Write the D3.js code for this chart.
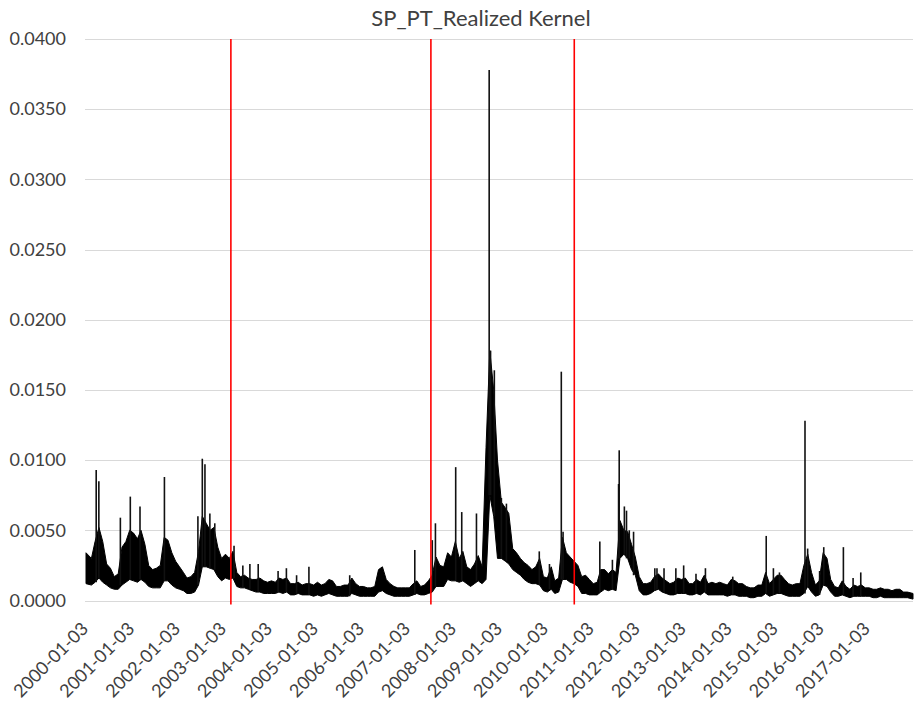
<!DOCTYPE html>
<meta charset="utf-8">
<style>
  body { margin: 0; background: #fff; }
  text { font-family: Lato, "Open Sans", sans-serif; fill: #404040; }
</style>
<svg width="914" height="701"></svg>
<script src="https://d3js.org/d3.v7.min.js"></script>
<script>
var title = "SP_PT_Realized Kernel";
var years = d3.range(2000, 2018);

// monthly low / high of the daily band (one row per year)
var bandLow = [
  [0.0012, 0.0011, 0.0013, 0.0016, 0.0013, 0.0011, 0.0009, 0.0008, 0.0008, 0.0011, 0.0013, 0.0015],
  [0.0014, 0.0013, 0.0015, 0.0013, 0.0010, 0.0009, 0.0009, 0.0009, 0.0014, 0.0014, 0.0011, 0.0009],
  [0.0008, 0.0007, 0.0005, 0.0005, 0.0006, 0.0011, 0.0024, 0.0024, 0.0023, 0.0022, 0.0017, 0.0014],
  [0.0016, 0.0015, 0.0016, 0.0010, 0.0009, 0.0009, 0.0008, 0.0007, 0.0006, 0.0006, 0.0005, 0.0005],
  [0.0005, 0.0005, 0.0006, 0.0005, 0.0006, 0.0004, 0.0004, 0.0005, 0.0004, 0.0004, 0.0004, 0.0003],
  [0.0004, 0.0003, 0.0004, 0.0005, 0.0004, 0.0003, 0.0003, 0.0003, 0.0003, 0.0005, 0.0004, 0.0003],
  [0.0003, 0.0003, 0.0003, 0.0003, 0.0006, 0.0007, 0.0005, 0.0004, 0.0003, 0.0003, 0.0003, 0.0003],
  [0.0003, 0.0004, 0.0005, 0.0004, 0.0004, 0.0005, 0.0006, 0.0010, 0.0010, 0.0010, 0.0015, 0.0014],
  [0.0014, 0.0013, 0.0014, 0.0012, 0.0010, 0.0012, 0.0014, 0.0012, 0.0015, 0.0075, 0.0060, 0.0030],
  [0.0030, 0.0028, 0.0026, 0.0022, 0.0020, 0.0018, 0.0015, 0.0013, 0.0012, 0.0012, 0.0011, 0.0007],
  [0.0006, 0.0008, 0.0005, 0.0006, 0.0015, 0.0015, 0.0013, 0.0012, 0.0010, 0.0005, 0.0005, 0.0004],
  [0.0004, 0.0004, 0.0006, 0.0008, 0.0007, 0.0008, 0.0007, 0.0030, 0.0033, 0.0030, 0.0022, 0.0018],
  [0.0007, 0.0004, 0.0004, 0.0005, 0.0007, 0.0008, 0.0006, 0.0005, 0.0004, 0.0004, 0.0005, 0.0005],
  [0.0005, 0.0004, 0.0004, 0.0005, 0.0004, 0.0006, 0.0004, 0.0004, 0.0004, 0.0004, 0.0004, 0.0003],
  [0.0004, 0.0004, 0.0003, 0.0003, 0.0003, 0.0002, 0.0002, 0.0003, 0.0003, 0.0005, 0.0003, 0.0004],
  [0.0005, 0.0005, 0.0004, 0.0003, 0.0003, 0.0003, 0.0003, 0.0005, 0.0010, 0.0006, 0.0003, 0.0004],
  [0.0011, 0.0010, 0.0006, 0.0003, 0.0003, 0.0004, 0.0003, 0.0002, 0.0003, 0.0003, 0.0003, 0.0003],
  [0.0003, 0.0002, 0.0002, 0.0003, 0.0002, 0.0002, 0.0002, 0.0002, 0.0002, 0.0002, 0.0002, 0.0001]
];
var bandHigh = [
  [0.0034, 0.0030, 0.0042, 0.0052, 0.0042, 0.0026, 0.0023, 0.0017, 0.0019, 0.0038, 0.0042, 0.0050],
  [0.0048, 0.0044, 0.0050, 0.0040, 0.0025, 0.0022, 0.0023, 0.0025, 0.0045, 0.0043, 0.0034, 0.0028],
  [0.0024, 0.0020, 0.0016, 0.0017, 0.0020, 0.0035, 0.0060, 0.0055, 0.0050, 0.0052, 0.0038, 0.0030],
  [0.0033, 0.0030, 0.0035, 0.0020, 0.0017, 0.0018, 0.0016, 0.0015, 0.0015, 0.0016, 0.0014, 0.0013],
  [0.0014, 0.0013, 0.0016, 0.0015, 0.0016, 0.0012, 0.0012, 0.0013, 0.0011, 0.0012, 0.0012, 0.0011],
  [0.0013, 0.0011, 0.0012, 0.0015, 0.0014, 0.0010, 0.0010, 0.0011, 0.0011, 0.0016, 0.0012, 0.0010],
  [0.0010, 0.0009, 0.0009, 0.0010, 0.0022, 0.0024, 0.0015, 0.0012, 0.0010, 0.0009, 0.0009, 0.0009],
  [0.0009, 0.0012, 0.0014, 0.0010, 0.0011, 0.0014, 0.0018, 0.0031, 0.0025, 0.0024, 0.0034, 0.0031],
  [0.0042, 0.0030, 0.0035, 0.0024, 0.0022, 0.0026, 0.0032, 0.0024, 0.0109, 0.0178, 0.0150, 0.0100],
  [0.0070, 0.0066, 0.0062, 0.0037, 0.0034, 0.0030, 0.0027, 0.0025, 0.0022, 0.0024, 0.0030, 0.0017],
  [0.0016, 0.0024, 0.0014, 0.0016, 0.0045, 0.0034, 0.0031, 0.0028, 0.0025, 0.0017, 0.0018, 0.0015],
  [0.0012, 0.0013, 0.0022, 0.0022, 0.0019, 0.0022, 0.0020, 0.0057, 0.0050, 0.0049, 0.0040, 0.0031],
  [0.0017, 0.0012, 0.0012, 0.0013, 0.0017, 0.0019, 0.0016, 0.0014, 0.0012, 0.0013, 0.0016, 0.0015],
  [0.0016, 0.0012, 0.0012, 0.0015, 0.0013, 0.0018, 0.0012, 0.0013, 0.0012, 0.0013, 0.0012, 0.0011],
  [0.0015, 0.0014, 0.0012, 0.0012, 0.0010, 0.0009, 0.0009, 0.0011, 0.0011, 0.0020, 0.0012, 0.0015],
  [0.0018, 0.0018, 0.0015, 0.0012, 0.0011, 0.0012, 0.0012, 0.0025, 0.0033, 0.0020, 0.0011, 0.0014],
  [0.0034, 0.0030, 0.0015, 0.0010, 0.0009, 0.0014, 0.0010, 0.0008, 0.0011, 0.0010, 0.0011, 0.0009],
  [0.0009, 0.0008, 0.0008, 0.0009, 0.0008, 0.0008, 0.0007, 0.0008, 0.0008, 0.0006, 0.0006, 0.0005]
];

// single-day spikes standing above the band
var spikes = [
  ["2000-03-24", 0.0093], ["2000-04-14", 0.0085], ["2000-10-02", 0.0059], ["2000-12-20", 0.0074],
  ["2001-03-07", 0.0067], ["2001-09-17", 0.0088], ["2002-06-10", 0.0060], ["2002-07-15", 0.0101],
  ["2002-08-05", 0.0097], ["2002-09-13", 0.0062], ["2002-10-22", 0.0055], ["2003-03-24", 0.0039],
  ["2003-06-02", 0.0025], ["2003-07-28", 0.0026], ["2003-10-02", 0.0026], ["2004-03-08", 0.0021],
  ["2004-05-13", 0.0023], ["2004-08-02", 0.0018], ["2004-11-08", 0.0024], ["2005-09-28", 0.0018],
  ["2007-02-27", 0.0036], ["2007-07-16", 0.0043], ["2007-08-10", 0.0055], ["2008-01-18", 0.0095],
  ["2008-03-06", 0.0063], ["2008-07-01", 0.0062], ["2008-10-10", 0.0378], ["2008-10-21", 0.0178],
  ["2008-11-20", 0.0164], ["2009-01-15", 0.0073], ["2009-02-24", 0.0069], ["2009-11-12", 0.0035],
  ["2010-02-01", 0.0026], ["2010-05-06", 0.0163], ["2010-05-20", 0.0049], ["2011-03-08", 0.0042],
  ["2011-06-16", 0.0029], ["2011-08-04", 0.0083], ["2011-08-09", 0.0107], ["2011-09-19", 0.0067],
  ["2011-10-06", 0.0064], ["2011-10-28", 0.0050], ["2011-12-01", 0.0049], ["2012-05-18", 0.0023],
  ["2012-06-04", 0.0023], ["2012-07-30", 0.0023], ["2012-11-01", 0.0023], ["2013-01-02", 0.0025],
  ["2013-04-10", 0.0019], ["2013-06-24", 0.0023], ["2014-01-27", 0.0017], ["2014-10-20", 0.0046],
  ["2014-12-16", 0.0023], ["2015-02-02", 0.0020], ["2015-08-24", 0.0128], ["2015-09-14", 0.0037],
  ["2015-12-18", 0.0021], ["2016-01-20", 0.0038], ["2016-06-24", 0.0038], ["2016-09-09", 0.0016],
  ["2016-11-09", 0.0020]
];

// red vertical marker lines
var breakDates = ["2003-02-27", "2007-07-05", "2010-08-17"];

var yTicks = [0, 0.005, 0.01, 0.015, 0.02, 0.025, 0.03, 0.035, 0.04];
var xTickLabels = ["2000-01-03", "2001-01-03", "2002-01-03", "2003-01-03", "2004-01-03", "2005-01-03",
  "2006-01-03", "2007-01-03", "2008-01-03", "2009-01-03", "2010-01-03", "2011-01-03", "2012-01-03",
  "2013-01-03", "2014-01-03", "2015-01-03", "2016-01-03", "2017-01-03"];

var parse = d3.timeParse("%Y-%m-%d");
var svg = d3.select("svg");

var x = d3.scaleTime()
  .domain([parse("2000-01-03"), parse("2017-12-29")])
  .range([86, 913]);
var y = d3.scaleLinear()
  .domain([0, 0.04])
  .range([600.5, 39]);

var months = [];
years.forEach(function(yr, i) {
  bandLow[i].forEach(function(lo, m) {
    months.push({ date: new Date(yr, m, 15), lo: lo, hi: bandHigh[i][m] });
  });
});
months[0].date = x.domain()[0];
months[months.length - 1].date = x.domain()[1];

// gridlines
svg.append("g")
  .selectAll("line")
  .data(yTicks)
  .enter().append("line")
    .attr("x1", 85).attr("x2", 913)
    .attr("y1", function(d) { return Math.round(y(d)) + 0.5; })
    .attr("y2", function(d) { return Math.round(y(d)) + 0.5; })
    .attr("stroke", "#d9d9d9")
    .attr("stroke-width", 1);

// band of daily values
var area = d3.area()
  .x(function(d) { return x(d.date); })
  .y0(function(d) { return y(d.lo); })
  .y1(function(d) { return y(d.hi); });

svg.append("path")
  .datum(months)
  .attr("d", area)
  .attr("fill", "#000")
  .attr("stroke", "#000")
  .attr("stroke-width", 1)
  .attr("stroke-linejoin", "round");

// spikes
svg.append("g")
  .selectAll("line")
  .data(spikes)
  .enter().append("line")
    .attr("x1", function(d) { return x(parse(d[0])); })
    .attr("x2", function(d) { return x(parse(d[0])); })
    .attr("y1", function(d) {
      var dt = parse(d[0]);
      return y(bandLow[dt.getFullYear() - 2000][dt.getMonth()]);
    })
    .attr("y2", function(d) { return y(d[1]); })
    .attr("stroke", "#111")
    .attr("stroke-width", 1.6);

// red lines
svg.append("g")
  .selectAll("line")
  .data(breakDates)
  .enter().append("line")
    .attr("x1", function(d) { return x(parse(d)); })
    .attr("x2", function(d) { return x(parse(d)); })
    .attr("y1", y(0.04))
    .attr("y2", y(0) + 4)
    .attr("stroke", "#ff0000")
    .attr("stroke-width", 1.6);

// y labels
svg.append("g")
  .attr("transform", "translate(66,0)")
  .call(d3.axisLeft(y).tickValues(yTicks).tickSize(0).tickPadding(0).tickFormat(d3.format(".4f")))
  .call(function(g) { g.select(".domain").remove(); })
  .selectAll("text")
    .style("font-size", "18px")
    .attr("fill", "#404040");

// x labels
svg.append("g")
  .attr("transform", "translate(0,612)")
  .call(d3.axisBottom(x).tickValues(xTickLabels.map(parse)).tickSize(0).tickFormat(d3.timeFormat("%Y-%m-%d")))
  .call(function(g) { g.select(".domain").remove(); })
  .selectAll("text")
    .style("font-size", "18px")
    .attr("fill", "#404040")
    .attr("text-anchor", "end")
    .attr("x", 0)
    .attr("y", 0)
    .attr("dy", "0.35em")
    .attr("transform", "translate(-1.5,13.5) rotate(-45)");

svg.append("text")
  .attr("x", 481)
  .attr("y", 26)
  .attr("text-anchor", "middle")
  .style("font-size", "22px")
  .text(title);
</script>
